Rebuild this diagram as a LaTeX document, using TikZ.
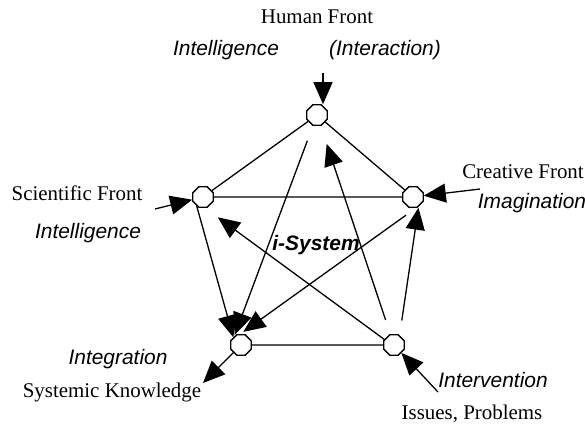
\documentclass[tikz,border=0pt]{standalone}
\usepackage{fontspec}
\setmainfont{Liberation Serif}
\setsansfont{Liberation Sans}
\usetikzlibrary{shapes.geometric, arrows.meta}
\tikzset{
        >={Triangle[length=22bp,width=19bp]}, % big filled heads
        front/.style={regular polygon, regular polygon sides=8, draw, minimum size=22bp, inner sep=0pt},
        lbl/.style={font=\fontsize{21}{25}\selectfont},
        it/.style={font=\fontsize{21}{25}\selectfont\sffamily\itshape}
        }

\begin{document}
\begin{tikzpicture}[x=1bp, y=-1bp, line width=1.3bp]
        \useasboundingbox (0,0) rectangle (585,426);
        % the five fronts
        \node[front] (h) at (317,115) {};
        \node[front] (s) at (203,197) {};
        \node[front] (c) at (413,197) {};
        \node[front] (k) at (241,345) {};
        \node[front] (i) at (394,345) {};

        \node[lbl] (hf) at (317,17) {Human Front};
        \node[it] (hi) at (226,50) {Intelligence};
        \node[it] (hx) at (385,50) {(Interaction)};
        \node[lbl] (sf) at (77,193) {Scientific Front};
        \node[it] (si) at (88,233) {Intelligence};
        \node[lbl] (cf) at (523,172) {Creative Front};
        \node[it] (ci) at (532,203) {Imagination};
        \node[it] (ki) at (118,359) {Integration};
        \node[lbl] (kf) at (112,392) {Systemic Knowledge};
        \node[it] (ii) at (493,380) {Intervention};
        \node[lbl] (if) at (472,414) {Issues, Problems};
        \node[font=\fontsize{21}{25}\selectfont\sffamily\bfseries\itshape] (sys) at (316,245) {i-System};

        \coordinate (hin) at (323,73);
        \coordinate (sin) at (155,209);
        \coordinate (cin) at (480,189);
        \coordinate (kout) at (203,383);
        \coordinate (iin) at (438,392);

        % sides
        \draw (h) -- (s) (h) -- (c) (s) -- (c) (k) -- (i);
        % arrows inside
        \draw[->] (s.-125) -- (k.135);
        \draw[->, shorten <=16bp, shorten >=2bp] (h) -- (k.130);
        \draw[->, shorten <=18bp, shorten >=4bp] (c.-45) -- (k.95);
        \draw[->, shorten >=16bp] (i.150) -- (s.-80);
        \draw[->, shorten <=15bp, shorten >=19bp] (i) -- (h);
        \draw[->, shorten <=15bp, shorten >=1bp] (i.60) -- (c.-60);
        % arrows outside
        \draw[->] (hin) -- (hin |- h.north);
        \draw[->] (sin) -- (s);
        \draw[->] (cin) -- (c);
        \draw[->] (k) -- (kout);
        \draw[->] (iin) -- (i);
\end{tikzpicture}
\end{document}
